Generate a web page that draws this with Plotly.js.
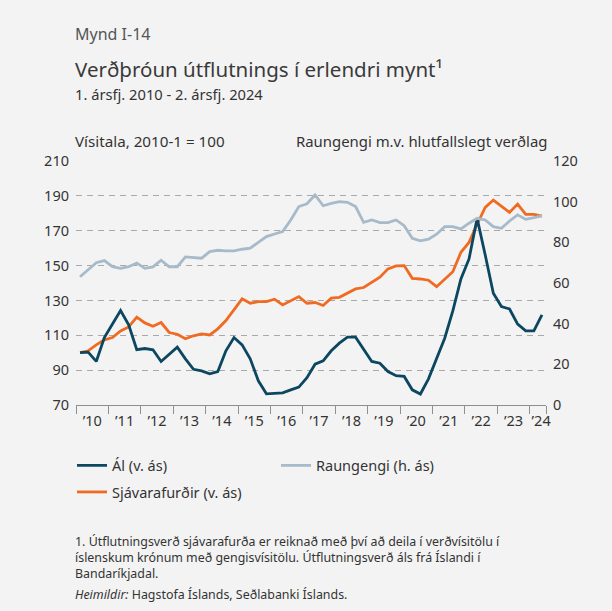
<!DOCTYPE html>
<html>
<head>
<meta charset="utf-8">
<script src="https://cdn.plot.ly/plotly-3.0.1.min.js"></script>
<style>
  html, body { margin: 0; padding: 0; background: #f3f3f3; }
  #chart { width: 612px; height: 611px; }
</style>
</head>
<body>
<div id="chart"></div>
<script>
// Quarters: 1. ársfj. 2010 - 2. ársfj. 2024
const periods = [];
for (let y = 2010; y <= 2024; y++) {
  for (let q = 1; q <= 4; q++) {
    if (y === 2024 && q > 2) break;
    periods.push(y + '-' + q);
  }
}

// Ál (v. ás) – index, 2010-1 = 100
const al = [100, 100.3, 95, 108.7, 116.5, 124.2, 116, 101.7, 102.4, 101.7, 95, 99.2, 103.2, 96.5, 90.5,
  89.6, 87.9, 89.2, 101.1, 108.7, 104.5, 96.5, 83.9, 76.4, 76.6, 77, 78.7, 80.3, 85.7,
  93.4, 95.3, 101.1, 105.5, 108.9, 108.9, 101.7, 95, 94, 89.2, 86.8, 86.4, 78.7, 76.3,
  85, 96.5, 108.3, 124, 142.3, 153.8, 177.1, 156.1, 134.1, 126.5, 125.1, 116.4, 112.5, 112.5, 121.7];

// Sjávarafurðir (v. ás) – index, 2010-1 = 100
const sjavarafurdir = [100, 101.1, 104.5, 107.4, 108.7, 112.5, 114.8, 120.4, 117.1, 115.2, 117.3, 111.6, 110.6, 108, 109.7,
  110.8, 110.2, 113.7, 118.5, 125, 130.9, 128.4, 129.3, 129.3, 130.7, 127.4, 129.7, 132.2, 128.4,
  128.8, 127.1, 131.3, 131.8, 134.1, 136.6, 137.4, 140.2, 143.3, 148.1, 149.8, 150, 142.7, 142.3,
  141.6, 137.9, 142.3, 146.5, 157.6, 163.3, 173.7, 183.4, 187.6, 183.8, 180.5, 185.3, 179.4, 179.4, 178.4];

// Raungengi (h. ás)
const raungengi = [63.1, 66.4, 70, 71, 68, 67.2, 68, 69.8, 67.2, 67.9, 71.2, 68, 68, 72.8, 72.6,
  72.2, 75.4, 76.1, 75.8, 75.8, 76.6, 77.1, 80, 82.8, 84.1, 85.3, 91, 97.6, 99,
  103.3, 98, 99.2, 100, 99.7, 97.6, 89.8, 91, 89.7, 89.7, 91, 88.2, 82, 80.7,
  81.6, 84, 87.7, 87.7, 86.6, 89.4, 91.8, 91, 87.7, 86.9, 90.5, 93.5, 91.3, 92.1, 93];

const yearLabels = ['’10', '’11', '’12', '’13', '’14', '’15', '’16', '’17', '’18', '’19', '’20', '’21', '’22', '’23', '’24'];
const leftTicks = [70, 90, 110, 130, 150, 170, 190, 210];
const rightTicks = [0, 20, 40, 60, 80, 100, 120];

// quarter -> position in years (middle of quarter)
const xq = periods.map(p => { const [y, q] = p.split('-').map(Number); return y + (q - 0.5) / 4; });
const firstYear = 2010, lastYear = 2024;
const yearStarts = [];
for (let y = firstYear; y <= lastYear; y++) yearStarts.push(y);
const xEnd = xq[xq.length - 1] + 0.125;
const labelPos = yearStarts.map(y => y === lastYear ? (y + xEnd) / 2 + 0.1 : y + 0.5);

const C_AL = '#0b4760', C_SJ = '#f06b22', C_RG = '#a6bac9';
const FONT = 'Noto Sans, Open Sans, sans-serif';

const traces = [
  { x: xq, y: raungengi, name: 'Raungengi (h. ás)', yaxis: 'y2', type: 'scatter', mode: 'lines',
    line: { color: C_RG, width: 2.8 }, legend: 'legend', legendrank: 2 },
  { x: xq, y: sjavarafurdir, name: 'Sjávarafurðir (v. ás)', type: 'scatter', mode: 'lines',
    line: { color: C_SJ, width: 2.8 }, legend: 'legend2', legendrank: 3 },
  { x: xq, y: al, name: 'Ál (v. ás)', type: 'scatter', mode: 'lines',
    line: { color: C_AL, width: 2.8 }, legend: 'legend', legendrank: 1 }
];

const plotL = 76, plotR = 546, plotT = 161, plotB = 405;
const pw = plotR - plotL, ph = plotB - plotT;
const px = v => (v - plotL) / pw;
const py = v => (plotB - v) / ph;

const layout = {
  width: 612, height: 611,
  paper_bgcolor: '#f3f3f3', plot_bgcolor: '#f3f3f3',
  margin: { l: plotL, r: 612 - plotR, t: plotT, b: 611 - plotB },
  font: { family: FONT, color: '#333', size: 14 },
  showlegend: true,
  xaxis: {
    range: [firstYear, xEnd],
    tickmode: 'array', tickvals: labelPos, ticktext: yearLabels,
    ticks: '', showgrid: false, zeroline: false,
    showline: true, linecolor: '#8f8f8f', linewidth: 1,
    tickfont: { size: 14.5, color: '#333' },
    ticklabelstandoff: 3,
    minor: { tickmode: 'array', tickvals: yearStarts.concat([xEnd]), ticks: 'outside', ticklen: 8,
             tickcolor: '#8f8f8f', tickwidth: 1, showgrid: false },
    fixedrange: true
  },
  yaxis: {
    range: [70, 210], tickmode: 'array', tickvals: leftTicks,
    showgrid: true, gridcolor: '#a9a9a9', gridwidth: 1.2, griddash: '6px,5px',
    zeroline: false, showline: false, ticks: '',
    tickfont: { size: 14.5, color: '#333' }, ticklabelstandoff: 6, fixedrange: true
  },
  yaxis2: {
    overlaying: 'y', side: 'right', range: [0, 120], tickmode: 'array', tickvals: rightTicks,
    showgrid: false, zeroline: false, showline: false, ticks: '',
    tickfont: { size: 14.5, color: '#333' }, ticklabelstandoff: 6, fixedrange: true
  },
  legend: {
    orientation: 'h', x: px(72), xanchor: 'left', y: py(449.5), yanchor: 'top',
    entrywidth: 159, itemwidth: 30, bgcolor: 'rgba(0,0,0,0)', borderwidth: 0,
    font: { family: FONT, size: 14.5, color: '#333' }, traceorder: 'normal'
  },
  legend2: {
    orientation: 'h', x: px(72), xanchor: 'left', y: py(476), yanchor: 'top',
    itemwidth: 30, bgcolor: 'rgba(0,0,0,0)', borderwidth: 0,
    font: { family: FONT, size: 14.5, color: '#333' }
  },
  annotations: [
    { text: 'Mynd I-14', xref: 'paper', yref: 'paper', x: px(73), y: py(34), xanchor: 'left', yanchor: 'middle',
      showarrow: false, font: { family: FONT, size: 16, color: '#555' } },
    { text: 'Verðþróun útflutnings í erlendri mynt¹', xref: 'paper', yref: 'paper', x: px(73), y: py(69), xanchor: 'left', yanchor: 'middle',
      showarrow: false, font: { family: FONT, size: 20.5, color: '#3a3a3a' } },
    { text: '1. ársfj. 2010 - 2. ársfj. 2024', xref: 'paper', yref: 'paper', x: px(73), y: py(94), xanchor: 'left', yanchor: 'middle',
      showarrow: false, font: { family: FONT, size: 14.7, color: '#333' } },
    { text: 'Vísitala, 2010-1 = 100', xref: 'paper', yref: 'paper', x: px(73), y: py(141), xanchor: 'left', yanchor: 'middle',
      showarrow: false, font: { family: FONT, size: 15.2, color: '#333' } },
    { text: 'Raungengi m.v. hlutfallslegt verðlag', xref: 'paper', yref: 'paper', x: px(549), y: py(141), xanchor: 'right', yanchor: 'middle',
      showarrow: false, font: { family: FONT, size: 14.9, color: '#333' } },
    { text: '1. Útflutningsverð sjávarafurða er reiknað með því að deila í verðvísitölu í<br>íslenskum krónum með gengisvísitölu. Útflutningsverð áls frá Íslandi í<br>Bandaríkjadal.',
      xref: 'paper', yref: 'paper', x: px(73), y: py(531), xanchor: 'left', yanchor: 'top', align: 'left',
      showarrow: false, font: { family: FONT, size: 12.4, color: '#333' } },
    { text: '<i>Heimildir:</i> Hagstofa Íslands, Seðlabanki Íslands.',
      xref: 'paper', yref: 'paper', x: px(73), y: py(594), xanchor: 'left', yanchor: 'middle', align: 'left',
      showarrow: false, font: { family: FONT, size: 12.4, color: '#333' } }
  ]
};

Plotly.newPlot('chart', traces, layout, { displayModeBar: false, staticPlot: true });
</script>
</body>
</html>
